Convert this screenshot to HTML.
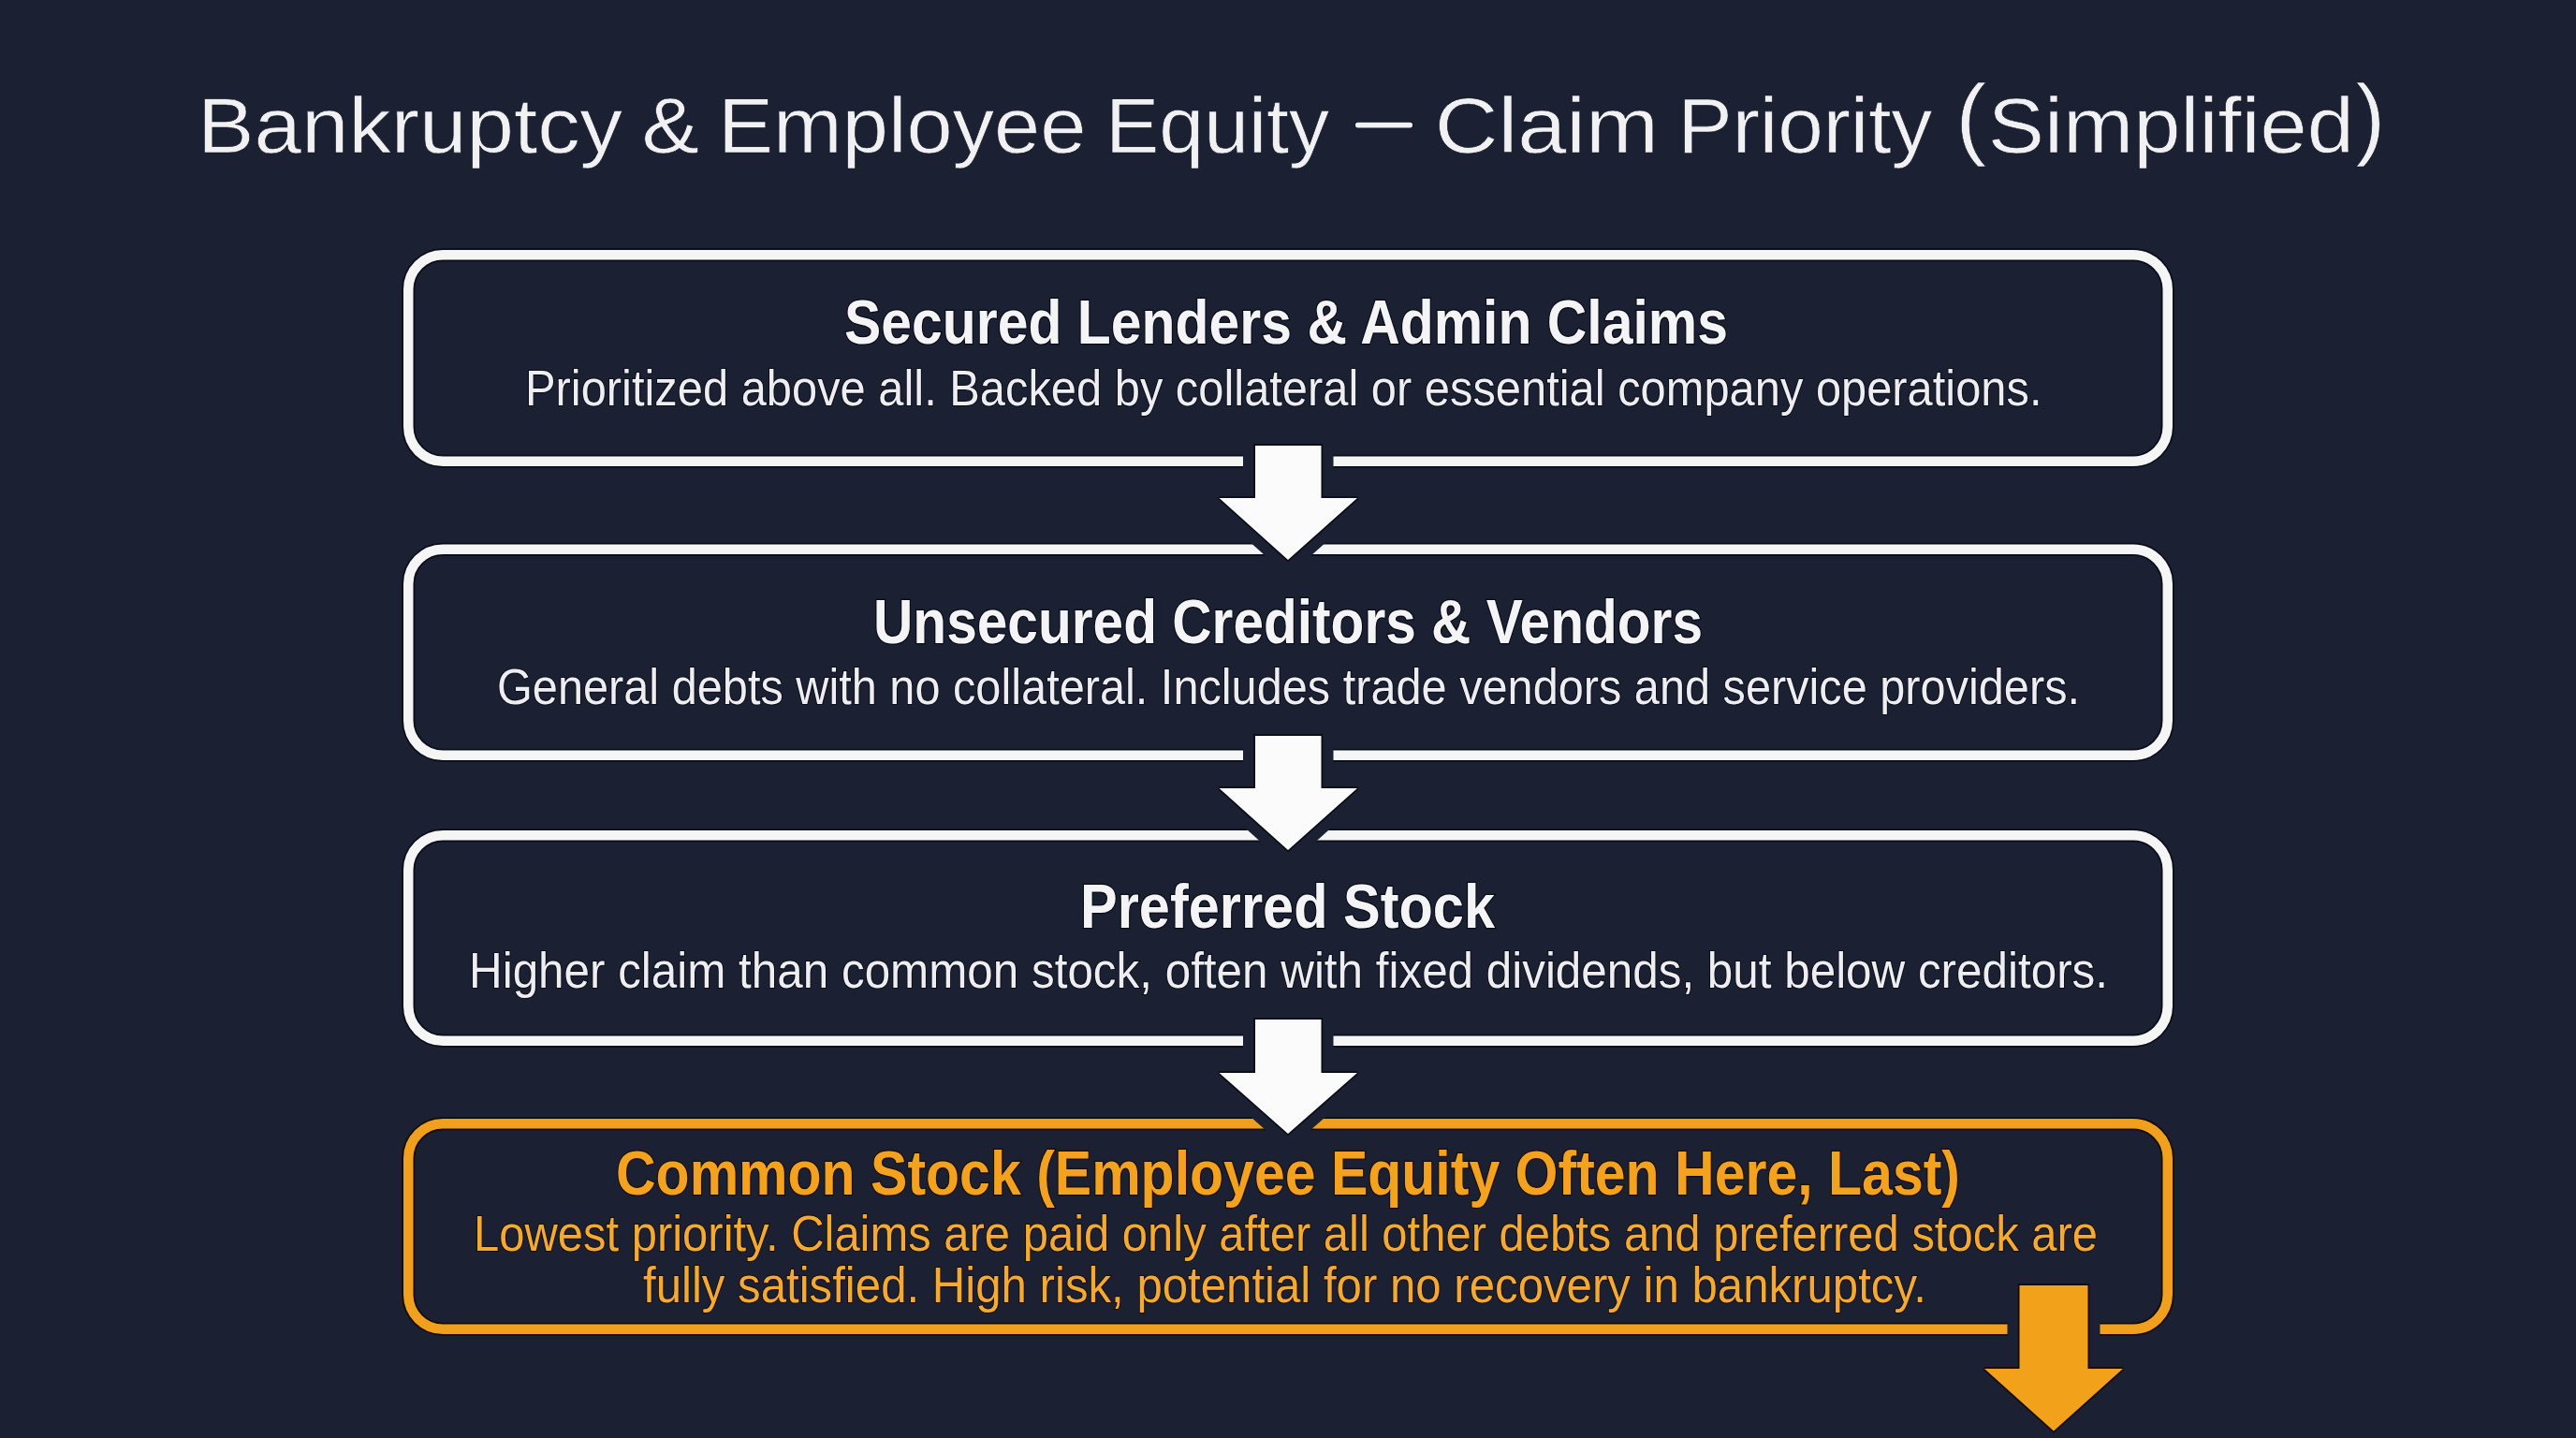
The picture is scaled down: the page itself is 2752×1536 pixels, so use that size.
<!DOCTYPE html>
<html>
<head>
<meta charset="utf-8">
<style>
html,body{margin:0;padding:0;background:#1b2133;}
body{width:2752px;height:1536px;overflow:hidden;}
svg{display:block;}
text{font-family:"Liberation Sans",sans-serif;}
.t{fill:#f1f1f3;font-size:84px;stroke:#0e1220;stroke-width:0.6;}
.h{fill:#f4f4f6;font-size:67px;font-weight:bold;stroke:#080b14;stroke-width:2.5;paint-order:stroke;}
.b{fill:#eeeef2;font-size:53px;stroke:#0a0d16;stroke-width:2;paint-order:stroke;}
.oh{fill:#f2a21e;font-size:67px;font-weight:bold;stroke:#1a0e04;stroke-width:2.5;paint-order:stroke;}
.ob{fill:#f2aa34;font-size:53px;stroke:#1a0e04;stroke-width:2;paint-order:stroke;}
</style>
</head>
<body>
<svg width="2752" height="1536" viewBox="0 0 2752 1536">
<rect x="0" y="0" width="2752" height="1536" fill="#1b2133"/>

<!-- title -->
<text class="t" id="t0" x="211.0" y="163" textLength="454.0" lengthAdjust="spacingAndGlyphs">Bankruptcy</text>
<text class="t" id="t1" x="685.4" y="163" textLength="61.6" lengthAdjust="spacingAndGlyphs">&amp;</text>
<text class="t" id="t2" x="767.0" y="163" textLength="393.4" lengthAdjust="spacingAndGlyphs">Employee</text>
<text class="t" id="t3" x="1181.0" y="163" textLength="239.0" lengthAdjust="spacingAndGlyphs">Equity</text>
<rect x="1448" y="130.8" width="61" height="5.6" rx="2.6" fill="#f1f1f3" stroke="#0e1220" stroke-width="1.5" paint-order="stroke"/>
<text class="t" id="t5" x="1532.8" y="163" textLength="239.2" lengthAdjust="spacingAndGlyphs">Claim</text>
<text class="t" id="t6" x="1792.4" y="163" textLength="271.8" lengthAdjust="spacingAndGlyphs">Priority</text>
<text class="t" id="t7a" x="2089.2" y="157.6" style="font-size:96px" textLength="32.8" lengthAdjust="spacingAndGlyphs">(</text>
<text class="t" id="t7b" x="2123.8" y="163" textLength="391.1" lengthAdjust="spacingAndGlyphs">Simplified</text>
<text class="t" id="t7c" x="2516.8" y="157.6" style="font-size:96px" textLength="31.3" lengthAdjust="spacingAndGlyphs">)</text>

<!-- boxes -->
<g fill="none" stroke-width="14" stroke="#0a0d17">
<rect x="436.25" y="272.25" width="1879.5" height="220.5" rx="37"/>
<rect x="436.25" y="586.75" width="1879.5" height="220" rx="37"/>
<rect x="436.25" y="892.25" width="1879.5" height="219.5" rx="37"/>
<rect x="436.25" y="1200.25" width="1879.5" height="219.5" rx="37" stroke="#140c04"/>
</g>
<g fill="none" stroke-width="10.5">
<rect x="436.25" y="272.25" width="1879.5" height="220.5" rx="37" stroke="#f5f5f6"/>
<rect x="436.25" y="586.75" width="1879.5" height="220" rx="37" stroke="#f5f5f6"/>
<rect x="436.25" y="892.25" width="1879.5" height="219.5" rx="37" stroke="#f5f5f6"/>
<rect x="436.25" y="1200.25" width="1879.5" height="219.5" rx="37" stroke="#f0a01d"/>
</g>

<!-- arrows -->
<polygon points="1341,476 1411.5,476 1411.5,532 1450,532 1376,598 1302.5,532 1341,532" fill="#fbfbfb" stroke="#1b2133" stroke-width="26" stroke-linejoin="miter"/>
<polygon points="1341,476 1411.5,476 1411.5,532 1450,532 1376,598 1302.5,532 1341,532" fill="#fbfbfb" stroke="#0a0d17" stroke-width="3.5" stroke-linejoin="miter" stroke-miterlimit="2" paint-order="stroke"/>
<polygon points="1341,786 1411.5,786 1411.5,842 1450,842 1376,908 1302.5,842 1341,842" fill="#fbfbfb" stroke="#1b2133" stroke-width="26" stroke-linejoin="miter"/>
<polygon points="1341,786 1411.5,786 1411.5,842 1450,842 1376,908 1302.5,842 1341,842" fill="#fbfbfb" stroke="#0a0d17" stroke-width="3.5" stroke-linejoin="miter" stroke-miterlimit="2" paint-order="stroke"/>
<polygon points="1341,1089 1411.5,1089 1411.5,1146 1450,1146 1376,1211 1302.5,1146 1341,1146" fill="#fbfbfb" stroke="#1b2133" stroke-width="26" stroke-linejoin="miter"/>
<polygon points="1341,1089 1411.5,1089 1411.5,1146 1450,1146 1376,1211 1302.5,1146 1341,1146" fill="#fbfbfb" stroke="#0a0d17" stroke-width="3.5" stroke-linejoin="miter" stroke-miterlimit="2" paint-order="stroke"/>
<polygon points="2157.5,1373 2230.5,1373 2230.5,1462 2268,1462 2194,1528.5 2120,1462 2157.5,1462" fill="#f2a11a" stroke="#1b2133" stroke-width="26" stroke-linejoin="miter"/>
<polygon points="2157.5,1373 2230.5,1373 2230.5,1462 2268,1462 2194,1528.5 2120,1462 2157.5,1462" fill="#f2a11a" stroke="#140c04" stroke-width="3.5" stroke-linejoin="miter" stroke-miterlimit="2" paint-order="stroke"/>

<!-- box 1 -->
<text class="h" id="h1" x="902.0" y="366.6" textLength="944.0" lengthAdjust="spacingAndGlyphs">Secured Lenders &amp; Admin Claims</text>
<text class="b" id="b1" x="561.0" y="433" textLength="1620.5" lengthAdjust="spacingAndGlyphs">Prioritized above all. Backed by collateral or essential company operations.</text>

<!-- box 2 -->
<text class="h" id="h2" x="933.0" y="687" textLength="886.0" lengthAdjust="spacingAndGlyphs">Unsecured Creditors &amp; Vendors</text>
<text class="b" id="b2" x="531.0" y="751.6" textLength="1691.0" lengthAdjust="spacingAndGlyphs">General debts with no collateral. Includes trade vendors and service providers.</text>

<!-- box 3 -->
<text class="h" id="h3" x="1154.0" y="990.5" textLength="443.0" lengthAdjust="spacingAndGlyphs">Preferred Stock</text>
<text class="b" id="b3" x="501.0" y="1055.4" textLength="1751.0" lengthAdjust="spacingAndGlyphs">Higher claim than common stock, often with fixed dividends, but below creditors.</text>

<!-- box 4 -->
<text class="oh" id="h4" x="658.0" y="1276.4" textLength="1436.0" lengthAdjust="spacingAndGlyphs">Common Stock (Employee Equity Often Here, Last)</text>
<text class="ob" id="b4a" x="506.0" y="1335.8" textLength="1735.0" lengthAdjust="spacingAndGlyphs">Lowest priority. Claims are paid only after all other debts and preferred stock are</text>
<text class="ob" id="b4b" x="687.0" y="1390.5" textLength="1371.0" lengthAdjust="spacingAndGlyphs">fully satisfied. High risk, potential for no recovery in bankruptcy.</text>
</svg>
</body>
</html>
